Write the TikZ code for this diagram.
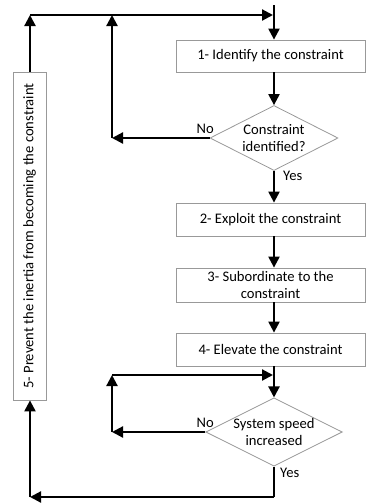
\documentclass[tikz,border=0pt]{standalone}
\usepackage{fontspec}
\setmainfont{Carlito}
\usetikzlibrary{shapes.geometric,arrows.meta}
\begin{document}
\begin{tikzpicture}[x=1pt,y=-1pt,
  font=\fontsize{14.6}{17.5}\selectfont,
  box/.style={draw=gray!80, line width=0.8pt, rectangle, inner sep=1pt, align=center},
  dia/.style={draw=gray!80, line width=0.8pt, diamond, aspect=2, inner sep=0pt,
    minimum width=128pt, minimum height=65pt, align=center},
  arr/.style={line width=2.2pt, -{Triangle[length=11pt,width=11pt]}},
  ln/.style={line width=2.2pt},
  lbl/.style={inner sep=0pt}]
\useasboundingbox (0,0) rectangle (366,504);
% boxes
\node[box, minimum width=189pt, minimum height=32pt] (b1) at (270.5,56) {1- Identify the constraint};
\node[dia] (d1) at (274,138) {Constraint\\identified?};
\node[box, minimum width=189pt, minimum height=33pt] (b2) at (270.5,219.5) {2- Exploit the constraint};
\node[box, minimum width=189pt, minimum height=34pt] (b3) at (270.5,285) {3- Subordinate to the\\constraint};
\node[box, minimum width=189pt, minimum height=33pt] (b4) at (270.5,349.5) {4- Elevate the constraint};
\node[dia] (d2) at (274,432) {System speed\\increased};
\node[box, minimum width=33pt, minimum height=328pt] (b5) at (29.5,236) {};
\node[rotate=90, inner sep=0pt] (t5) at (b5.center) {5- Prevent the inertia from becoming the constraint};
% coordinates
\coordinate (top) at (274,5);
\coordinate (c1) at (112,138);
\coordinate (c2) at (112,15);
\coordinate (c3) at (30,15);
\coordinate (c4) at (273,15);
\coordinate (c5) at (112,375);
\coordinate (c5e) at (273,375);
\coordinate (c6) at (112,432);
\coordinate (c7) at (274,497);
\coordinate (c8) at (30,497);
% connectors
\draw[arr] (top) -- (b1.north -| top);
\draw[arr] (b1.south -| top) -- (d1.north);
\draw[arr] (d1.west) -- (c1);
\draw[arr] (c1) -- (c2);
\draw[arr] (b5.north -| c3) -- (c3);
\draw[arr] (c3) -- (c4);
\draw[arr] (d1.south) -- (b2.north -| top);
\draw[arr] (b2.south -| top) -- (b3.north -| top);
\draw[arr] (b3.south -| top) -- (b4.north -| top);
\draw[arr] (b4.south -| top) -- (d2.north);
\draw[arr] (c5) -- (c5e);
\draw[arr] (d2.west) -- (c6);
\draw[arr] (c6) -- (c5);
\draw[ln] (d2.south) -- (c7);
\draw[arr] (c7) -- (c8);
\draw[arr] (c8) -- (b5.south -| c8);
% labels
\node[lbl, anchor=south east] (no1) at (214,134) {No};
\node[lbl, anchor=west] (yes1) at (283,176) {Yes};
\node[lbl, anchor=south east] (no2) at (214,428) {No};
\node[lbl, anchor=west] (yes2) at (280,473) {Yes};
\end{tikzpicture}
\end{document}
